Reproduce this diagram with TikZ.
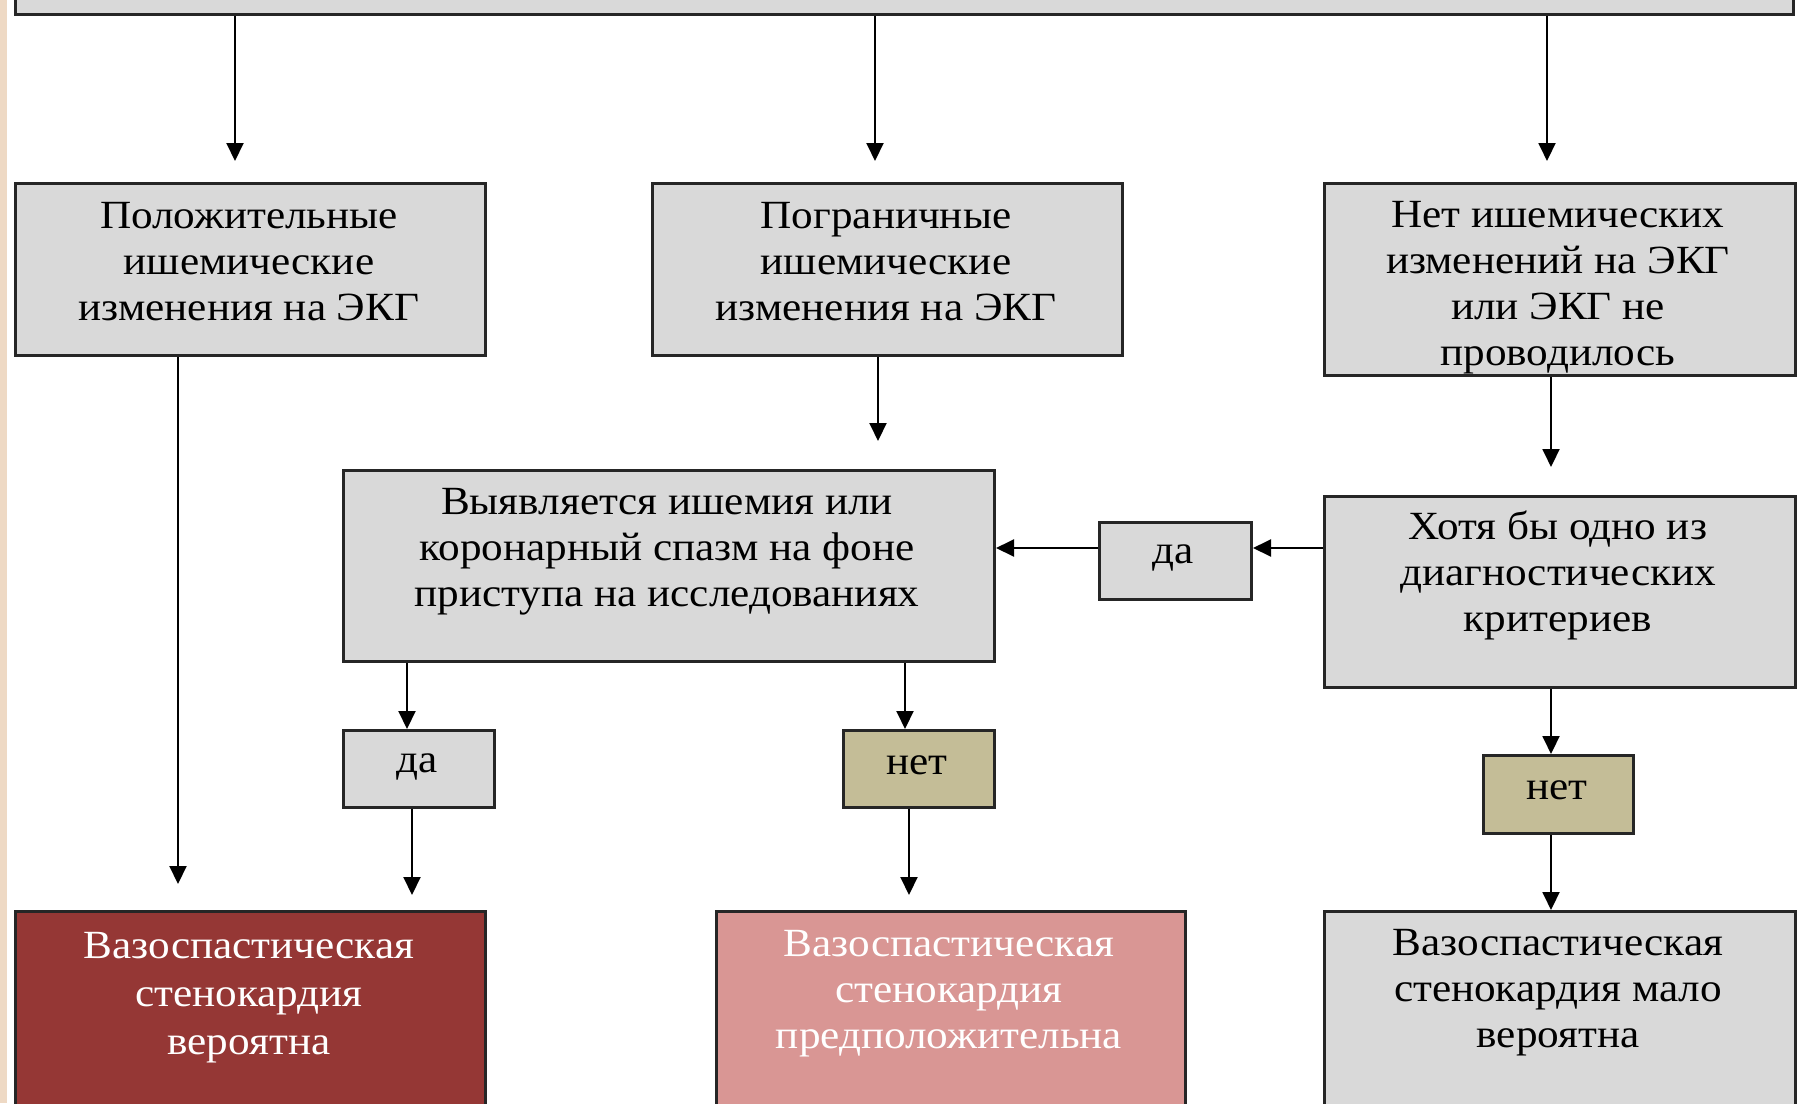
\documentclass[tikz,border=0pt]{standalone}
\usepackage{fontspec}
\setmainfont{Liberation Serif}[FakeStretch=1.08]
\usetikzlibrary{arrows.meta}
\definecolor{boxgray}{HTML}{D9D9D9}
\definecolor{boxtan}{HTML}{C4BD97}
\definecolor{boxdark}{HTML}{953735}
\definecolor{boxpink}{HTML}{D99694}
\definecolor{edgebeige}{HTML}{EED9C4}
\definecolor{edge}{HTML}{262626}
\tikzset{
  box/.style={draw=edge, line width=3pt, fill=boxgray, rectangle, inner sep=0pt, anchor=north west},
  txt/.style={align=center, inner sep=0pt, font=\fontsize{40}{46}\selectfont, text=black},
  arr/.style={draw=black, line width=2pt, -{Triangle[length=18pt,width=17pt]}},
}
\begin{document}
\begin{tikzpicture}[x=1pt,y=-1pt]
\useasboundingbox (0,0) rectangle (1806,1103);
\clip (0,0) rectangle (1806,1103);
\fill[edgebeige] (0,0) rectangle (7,1103);
% top box (cut off)
\node[box, minimum width=1778pt, minimum height=113pt] (top) at (14,-100) {};
% second row
\node[box, minimum width=470pt, minimum height=172pt] (A) at (14,182) {};
\node[box, minimum width=470pt, minimum height=172pt] (B) at (651,182) {};
\node[box, minimum width=471pt, minimum height=192pt] (C) at (1323,182) {};
% third row
\node[box, minimum width=651pt, minimum height=191pt] (D) at (342,469) {};
\node[box, minimum width=152pt, minimum height=77pt] (F) at (1098,521) {};
\node[box, minimum width=471pt, minimum height=191pt] (E) at (1323,495) {};
% yes/no row
\node[box, minimum width=151pt, minimum height=77pt] (G) at (342,729) {};
\node[box, fill=boxtan, minimum width=151pt, minimum height=77pt] (H) at (842,729) {};
\node[box, fill=boxtan, minimum width=150pt, minimum height=78pt] (I) at (1482,754) {};
% bottom row (cut off)
\node[box, fill=boxdark, minimum width=470pt, minimum height=260pt] (J) at (14,910) {};
\node[box, fill=boxpink, minimum width=469pt, minimum height=260pt] (K) at (715,910) {};
\node[box, minimum width=471pt, minimum height=260pt] (L) at (1323,910) {};
% texts
\node[txt] (At) at (249,262) {Положительные\\ишемические\\изменения на ЭКГ};
\node[txt] (Bt) at (886,262) {Пограничные\\ишемические\\изменения на ЭКГ};
\node[txt] (Ct) at (1558,288) {Нет ишемических\\изменений на ЭКГ\\или ЭКГ не\\проводилось};
\node[txt] (Dt) at (667,552) {Выявляется ишемия или\\коронарный спазм на фоне\\приступа на исследованиях};
\node[txt] (Et) at (1558,575) {Хотя бы одно из\\диагностических\\критериев};
\node[txt] (Ft) at (1173,558) {да};
\node[txt] (Gt) at (417,767) {да};
\node[txt] (Ht) at (917,765) {нет};
\node[txt] (It) at (1557,790) {нет};
\node[txt, text=white, font=\fontsize{40}{48}\selectfont] (Jt) at (249,998) {Вазоспастическая\\стенокардия\\вероятна};
\node[txt, text=white] (Kt) at (949,994) {Вазоспастическая\\стенокардия\\предположительна};
\node[txt] (Lt) at (1558,993) {Вазоспастическая\\стенокардия мало\\вероятна};
% x positions of connectors
\coordinate (x1) at (235,0);
\coordinate (x2) at (875,0);
\coordinate (x3) at (1547,0);
\coordinate (x4) at (878,0);
\coordinate (x5) at (1551,0);
\coordinate (x6) at (407,0);
\coordinate (x7) at (905,0);
\coordinate (x8) at (178,0);
\coordinate (x9) at (412,0);
\coordinate (x10) at (909,0);
\coordinate (y1) at (0,548);
% connectors
\draw[arr, shorten >=21pt] (top.south -| x1) -- (A.north -| x1);
\draw[arr, shorten >=21pt] (top.south -| x2) -- (B.north -| x2);
\draw[arr, shorten >=21pt] (top.south -| x3) -- (C.north -| x3);
\draw[arr, shorten >=28pt] (B.south -| x4) -- (D.north -| x4);
\draw[arr, shorten >=28pt] (C.south -| x5) -- (E.north -| x5);
\draw[arr] (E.west |- y1) -- (F.east |- y1);
\draw[arr] (F.west |- y1) -- (D.east |- y1);
\draw[arr] (D.south -| x6) -- (G.north -| x6);
\draw[arr] (D.south -| x7) -- (H.north -| x7);
\draw[arr] (E.south -| x5) -- (I.north -| x5);
\draw[arr, shorten >=26pt] (A.south -| x8) -- (J.north -| x8);
\draw[arr, shorten >=15pt] (G.south -| x9) -- (J.north -| x9);
\draw[arr, shorten >=15pt] (H.south -| x10) -- (K.north -| x10);
\draw[arr] (I.south -| x5) -- (L.north -| x5);
\end{tikzpicture}
\end{document}
